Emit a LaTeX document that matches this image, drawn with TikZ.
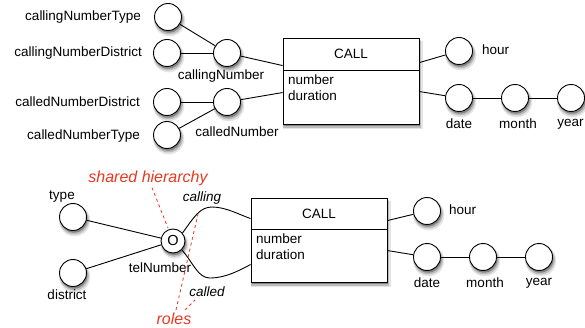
\documentclass[tikz,border=0pt]{standalone}
\usepackage{fontspec}
\setmainfont{Liberation Sans}
\usetikzlibrary{shadows,calc}
\definecolor{notered}{RGB}{232,56,32}

\tikzset{
  soft round shadow/.style={
    general shadow={fill=black, opacity=0.10, shadow xshift=1.4pt, shadow yshift=-3.2pt, shadow scale=1.16},
    general shadow={fill=black, opacity=0.18, shadow xshift=1.2pt, shadow yshift=-2.7pt, shadow scale=1.08},
    general shadow={fill=black, opacity=0.30, shadow xshift=1pt, shadow yshift=-2.2pt}},
  soft box shadow/.style={
    general shadow={fill=black, opacity=0.10, shadow xshift=1.6pt, shadow yshift=-3.8pt, shadow scale=1.03},
    general shadow={fill=black, opacity=0.18, shadow xshift=1.3pt, shadow yshift=-3pt, shadow scale=1.015},
    general shadow={fill=black, opacity=0.30, shadow xshift=1pt, shadow yshift=-2.2pt}},
  attr/.style={circle, draw, fill=white, line width=0.9pt, minimum size=27pt,
    inner sep=0pt, soft round shadow},
  entity/.style={rectangle, draw, fill=white, line width=0.9pt, minimum width=136pt,
    inner sep=0pt, soft box shadow},
  lbl/.style={font=\fontsize{13.5}{16}\selectfont, inner sep=0pt},
  rolelbl/.style={font=\fontsize{13.5}{16}\selectfont\itshape, inner sep=0pt},
  note/.style={font=\fontsize{16}{18}\selectfont\itshape, text=notered, inner sep=0pt},
  link/.style={line width=0.9pt},
  notelink/.style={draw=notered, dashed, line width=0.8pt},
}

\begin{document}
\begin{tikzpicture}[x=1pt, y=-1pt]
\useasboundingbox (0,0) rectangle (585,328);

% ---------- first schema: separate calling / called hierarchies ----------
\node[entity, minimum height=86pt] (call1) at (351,81) {};
\draw[link] ($(call1.north west)+(0,33)$) -- ($(call1.north east)+(0,33)$);
\node[lbl] (call1name) at (351,54) {CALL};
\node[lbl, anchor=north west, align=left] (call1attr) at (288,75) {number\\duration};

\node[attr] (cnt) at (168,17) {};
\node[attr] (cnd) at (167,53) {};
\node[attr] (cn)  at (227,53) {};
\node[attr] (cdd) at (167,102) {};
\node[attr] (cdn) at (227,102) {};
\node[attr] (cdt) at (167,135) {};

\node[lbl, anchor=east] (cntl) at (141,17) {callingNumberType};
\node[lbl, anchor=east] (cndl) at (142,53) {callingNumberDistrict};
\node[lbl] (cnl) at (221,76) {callingNumber};
\node[lbl, anchor=east] (cddl) at (140,102) {calledNumberDistrict};
\node[lbl, anchor=east] (cdtl) at (140,136) {calledNumberType};
\node[lbl] (cdnl) at (237,132) {calledNumber};

\draw[link] (cnt) -- (cn);
\draw[link] (cnd) -- (cn);
\draw[link] (cdd) -- (cdn);
\draw[link] (cdt) -- (cdn);
\draw[link] (cn) -- ($(call1.north west)+(0,28)$);
\draw[link] (cdn) -- ($(call1.north west)+(0,55)$);

\node[attr] (hour1)  at (459,51) {};
\node[attr] (date1)  at (459,98) {};
\node[attr] (month1) at (515,98) {};
\node[attr] (year1)  at (571,98) {};
\node[lbl, anchor=west] (hour1l) at (482,50) {hour};
\node[lbl] (date1l)  at (459,124) {date};
\node[lbl] (month1l) at (518,124) {month};
\node[lbl] (year1l)  at (570.5,124) {year};

\draw[link] ($(call1.north east)+(0,25)$) -- (hour1);
\draw[link] ($(call1.north east)+(0,54)$) -- (date1);
\draw[link] (date1) -- (month1) -- (year1);

% ---------- second schema: shared hierarchy with roles ----------
\node[entity, minimum height=84pt] (call2) at (319,240) {};
\draw[link] ($(call2.north west)+(0,32)$) -- ($(call2.north east)+(0,32)$);
\node[lbl] (call2name) at (319,214) {CALL};
\node[lbl, anchor=north west, align=left] (call2attr) at (256,234) {number\\duration};

\node[attr] (type)     at (73,217) {};
\node[attr] (district) at (73,273) {};
\node[attr, minimum size=24pt, font=\fontsize{14.5}{16}\selectfont] (tel) at (173,241) {O};
\node[lbl] (typel) at (62,197) {type};
\node[lbl] (districtl) at (67,295) {district};
\node[lbl] (tell) at (160,268) {telNumber};

\draw[link] (type) -- (tel);
\draw[link] (district) -- (tel);
\draw[link] (tel.40) .. controls (194,217) and (200,207) .. (212,207)
  .. controls (226,207) and (240,215) .. ($(call2.north west)+(0,21)$);
\draw[link] (tel.-45) .. controls (194,264) and (198,278) .. (210,278)
  .. controls (226,278) and (240,270) .. ($(call2.north west)+(0,67)$);

\node[rolelbl] (callingl) at (202,198) {calling};
\node[rolelbl] (calledl)  at (207,292) {called};

\node[attr] (hour2)  at (427,211) {};
\node[attr] (date2)  at (427,257) {};
\node[attr] (month2) at (483,257) {};
\node[attr] (year2)  at (539,257) {};
\node[lbl, anchor=west] (hour2l) at (449,210) {hour};
\node[lbl] (date2l)  at (427,283) {date};
\node[lbl] (month2l) at (485,283) {month};
\node[lbl] (year2l)  at (539,283) {year};

\draw[link] ($(call2.north east)+(0,23)$) -- (hour2);
\draw[link] ($(call2.north east)+(0,53)$) -- (date2);
\draw[link] (date2) -- (month2) -- (year2);

% annotations
\node[note] (shared) at (148,178) {shared hierarchy};
\node[note] (roles)  at (174,319) {roles};
\coordinate (sharedtip) at (168,228);
\coordinate (rolestip1) at (198,214);
\coordinate (rolestip2) at (195,300);
\draw[notelink] ($(shared.south)+(4,2)$) -- (sharedtip);
\draw[notelink] ($(roles.north)+(2,-3)$) -- (rolestip1);
\draw[notelink] ($(roles.north)+(11,-3)$) -- (rolestip2);
\end{tikzpicture}
\end{document}
